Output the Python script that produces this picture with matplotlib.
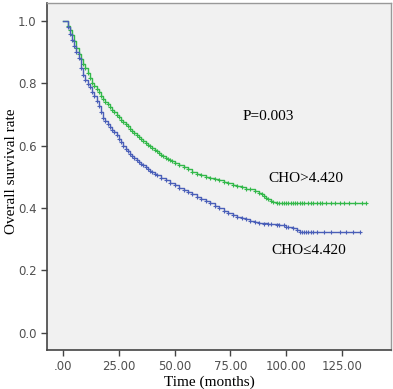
import matplotlib
matplotlib.use("Agg")
import matplotlib.pyplot as plt

# Kaplan-Meier step points
green_t = [0, 1, 2, 3, 4, 5, 6, 7, 8, 9, 10, 11, 12, 13, 14, 15, 16, 17, 18, 19, 20, 21, 22,
           23, 24, 25, 26, 27, 28, 29, 30, 31, 32, 33, 34, 35, 36, 37, 38, 39, 40, 41, 42,
           43, 44, 45, 46, 47, 48, 49, 50, 52, 54, 56, 58, 60, 62, 64, 66, 68, 70, 72, 74,
           76, 78, 80, 82, 84, 86, 88, 89, 90, 91, 92, 93, 94, 96, 98, 136]
green_s = [1.0, 1.0, 0.985, 0.97, 0.955, 0.935, 0.915, 0.895, 0.878, 0.862, 0.848, 0.833,
           0.818, 0.803, 0.792, 0.781, 0.771, 0.761, 0.751, 0.742, 0.733, 0.725, 0.716,
           0.708, 0.700, 0.692, 0.684, 0.676, 0.669, 0.662, 0.655, 0.648, 0.641, 0.634,
           0.628, 0.622, 0.616, 0.610, 0.604, 0.598, 0.592, 0.587, 0.582, 0.577, 0.572,
           0.567, 0.562, 0.558, 0.554, 0.550, 0.546, 0.538, 0.531, 0.524, 0.517, 0.511,
           0.506, 0.501, 0.497, 0.493, 0.489, 0.485, 0.480, 0.475, 0.471, 0.467, 0.463,
           0.460, 0.455, 0.449, 0.444, 0.439, 0.434, 0.429, 0.424, 0.420, 0.418, 0.416, 0.416]

blue_t = [0, 1, 2, 3, 4, 5, 6, 7, 8, 9, 10, 11, 12, 13, 14, 15, 16, 17, 18, 19, 20, 21, 22,
          23, 24, 25, 26, 27, 28, 29, 30, 31, 32, 33, 34, 35, 36, 37, 38, 39, 40, 41, 42,
          44, 46, 48, 50, 52, 54, 56, 58, 60, 62, 64, 66, 68, 70, 72, 74, 76, 78, 80, 82,
          84, 86, 88, 92, 97, 100, 103, 105, 106, 133]
blue_s = [1.0, 1.0, 0.98, 0.96, 0.94, 0.92, 0.90, 0.88, 0.85, 0.826, 0.81, 0.798, 0.787,
          0.773, 0.759, 0.745, 0.727, 0.708, 0.69, 0.679, 0.669, 0.66, 0.651, 0.643, 0.634,
          0.622, 0.611, 0.60, 0.591, 0.583, 0.575, 0.568, 0.561, 0.555, 0.549, 0.543,
          0.537, 0.531, 0.525, 0.52, 0.515, 0.51, 0.505, 0.497, 0.49, 0.482, 0.475, 0.466,
          0.458, 0.451, 0.445, 0.437, 0.43, 0.422, 0.415, 0.407, 0.399, 0.39, 0.384, 0.378,
          0.373, 0.368, 0.364, 0.36, 0.356, 0.352, 0.35, 0.346, 0.34, 0.335, 0.33, 0.323, 0.323]

# censor marks on the flat tails
green_cens_t = [97, 99, 100, 101, 102, 103, 104, 105, 106, 107, 108, 110, 111, 112, 114, 115,
                116, 118, 120, 122, 124, 126, 128, 131, 134, 136]
green_cens_s = [0.416] * len(green_cens_t)
blue_cens_t = [90, 93, 96, 99, 101, 107, 108, 109, 110, 111, 112, 114, 117, 120, 124, 127,
               130, 133]
blue_cens_s = [0.35, 0.35, 0.346, 0.346, 0.34, 0.323, 0.323, 0.323, 0.323, 0.323, 0.323,
               0.323, 0.323, 0.323, 0.323, 0.323, 0.323, 0.323]

xticks = [0, 25, 50, 75, 100, 125]
xticklabels = [".00", "25.00", "50.00", "75.00", "100.00", "125.00"]
yticks = [0.0, 0.2, 0.4, 0.6, 0.8, 1.0]
yticklabels = ["0.0", "0.2", "0.4", "0.6", "0.8", "1.0"]

GREEN = "#33b84a"
BLUE = "#4a5fb8"

fig = plt.figure(figsize=(3.93, 3.89), dpi=100)
ax = fig.add_axes([47/393, 39/389, 344/393, 347/389])
ax.set_facecolor("#f1f1f1")

for t, s, c, ct, cs in [(green_t, green_s, GREEN, green_cens_t, green_cens_s),
                        (blue_t, blue_s, BLUE, blue_cens_t, blue_cens_s)]:
    ax.plot(t, s, drawstyle="steps-post", color=c, lw=1.0)
    ax.plot(t[2:-1], s[2:-1], ls="none", marker="+", ms=3.5, mew=0.8, color=c)
    ax.plot(ct, cs, ls="none", marker="+", ms=3.5, mew=0.8, color=c)

ax.set_xlim(-7.2, 147)
ax.set_ylim(-0.055, 1.058)
ax.set_xticks(xticks)
ax.set_xticklabels(xticklabels)
ax.set_yticks(yticks)
ax.set_yticklabels(yticklabels)
ax.tick_params(axis="both", direction="out", length=4, width=1, color="#444444",
               labelsize=8.5, labelcolor="#505050")
for lab in ax.get_xticklabels() + ax.get_yticklabels():
    lab.set_family("DejaVu Sans")

for side in ["left", "bottom"]:
    ax.spines[side].set_color("#444444")
    ax.spines[side].set_linewidth(1.2)
for side in ["top", "right"]:
    ax.spines[side].set_color("#999999")
    ax.spines[side].set_linewidth(1.0)

serif = "Liberation Serif"
ax.set_xlabel("Time (months)", family=serif, fontsize=11)
ax.xaxis.set_label_coords(0.472, -0.092)
ax.xaxis.label.set_va("center")
ax.set_ylabel("Overall survival rate", family=serif, fontsize=11)
ax.yaxis.set_label_coords(-0.102, 0.514)
ax.yaxis.label.set_va("center")

ax.text(92, 0.693, "P=0.003", family=serif, fontsize=11, ha="center", va="center")
ax.text(109, 0.495, "CHO>4.420", family=serif, fontsize=11, ha="center", va="center")
ax.text(110, 0.264, "CHO\u22644.420", family=serif, fontsize=11, ha="center", va="center")

fig.savefig("out.png", dpi=100)
